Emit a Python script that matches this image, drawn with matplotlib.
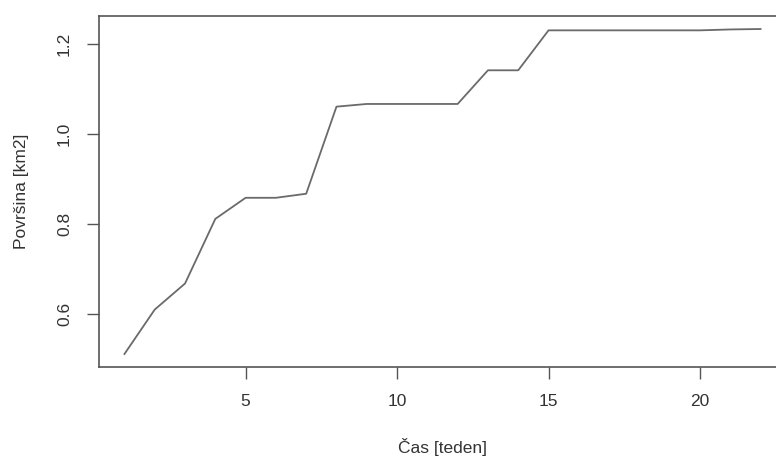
import numpy as np
import matplotlib.pyplot as plt

plt.rcParams['font.family'] = ['Liberation Sans', 'DejaVu Sans']

# weeks and area [km2]
weeks = list(range(1, 23))
area = [0.51, 0.609, 0.667, 0.811, 0.858, 0.858, 0.867, 1.061, 1.067, 1.067, 1.067,
        1.067, 1.142, 1.142, 1.231, 1.231, 1.231, 1.231, 1.231, 1.231, 1.233, 1.234]
xticks = [5, 10, 15, 20]
yticks = [0.6, 0.8, 1.0, 1.2]


def main():
    fig = plt.figure(figsize=(7.76, 4.57), dpi=100)
    W, H = 776, 457
    left, right, top, bottom = 99, 786, 16, 367
    ax = fig.add_axes([left / W, 1 - bottom / H, (right - left) / W, (bottom - top) / H])

    ax.plot(weeks, area, color='#6a6a6a', linewidth=1.3)

    # R-style 4% padding
    xr = max(weeks) - min(weeks)
    yr = max(area) - min(area)
    ax.set_xlim(min(weeks) - 0.04 * xr, max(weeks) + 0.04 * xr)
    ax.set_ylim(min(area) - 0.04 * yr, max(area) + 0.04 * yr)

    ax.set_xticks(xticks)
    ax.set_yticks(yticks)
    ax.set_yticklabels([f"{v:.1f}" for v in yticks], rotation=90, va='center')
    ax.tick_params(direction='out', length=8.5, width=1.0, color='#555555',
                   labelsize=12.5, labelcolor='#333333', pad=11)

    for s in ax.spines.values():
        s.set_color('#555555')
        s.set_linewidth(1.2)

    ax.set_xlabel("Čas [teden]", fontsize=12.5, color='#333333', va='center')
    ax.set_ylabel("Površina [km2]", fontsize=12.5, color='#333333', va='center')
    ax.xaxis.set_label_coords(0.5, -(447 - bottom) / (bottom - top))
    ax.yaxis.set_label_coords(-(left - 22) / (right - left), 0.5)

    fig.savefig("out.png", dpi=100)


if __name__ == "__main__":
    main()
